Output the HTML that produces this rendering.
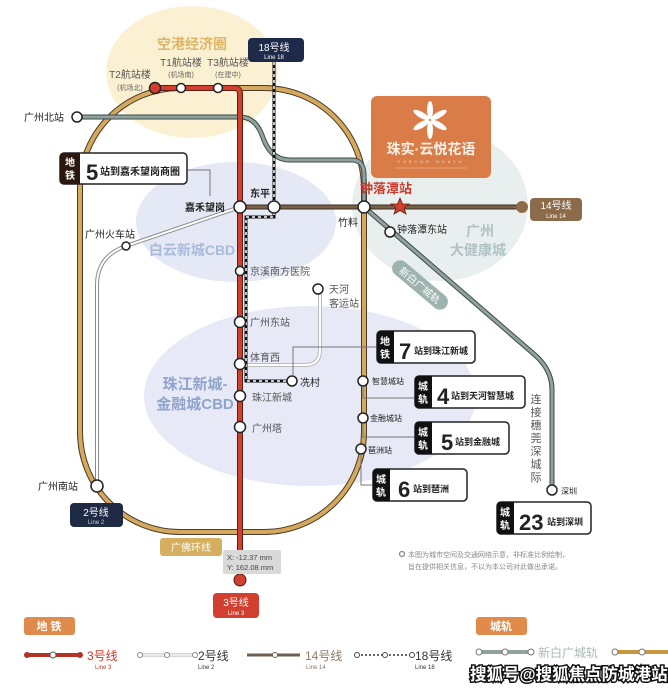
<!DOCTYPE html>
<html><head><meta charset="utf-8"><style>
html,body{margin:0;padding:0;background:#fff;}
svg{display:block;}
text{font-family:"Liberation Sans","Noto Sans CJK SC",sans-serif;}
</style></head><body>
<svg width="668" height="688" viewBox="0 0 668 688" xmlns="http://www.w3.org/2000/svg">
<ellipse cx="192" cy="72" rx="86" ry="66" fill="#fbf1d2"/>
<ellipse cx="440" cy="205" rx="88" ry="76" fill="#e9efee"/>
<ellipse cx="236" cy="222" rx="100" ry="60" fill="#e5e9f5"/>
<ellipse cx="310" cy="396" rx="166" ry="90" fill="#e7e9f6"/>
<text x="192" y="49" font-size="14" font-weight="bold" fill="#dcb565" text-anchor="middle">空港经济圈</text>
<text x="192" y="255" font-size="14" font-weight="bold" fill="#a9b9dc" text-anchor="middle">白云新城CBD</text>
<text x="195" y="389" font-size="15" font-weight="bold" fill="#8fa3cc" text-anchor="middle">珠江新城-</text>
<text x="195" y="409" font-size="15" font-weight="bold" fill="#8fa3cc" text-anchor="middle">金融城CBD</text>
<text x="480" y="236" font-size="14" font-weight="bold" fill="#b0c2c4" text-anchor="middle">广州</text>
<text x="478" y="255" font-size="14" font-weight="bold" fill="#b0c2c4" text-anchor="middle">大健康城</text>

<path d="M180,88 H264 A100,100 0 0 1 364,188 V432 A100,100 0 0 1 264,532 H180 A100,100 0 0 1 80,432 V188 A100,100 0 0 1 180,88 Z" fill="none" stroke="#4a3a28" stroke-width="6"/>
<path d="M180,88 H264 A100,100 0 0 1 364,188 V432 A100,100 0 0 1 264,532 H180 A100,100 0 0 1 80,432 V188 A100,100 0 0 1 180,88 Z" fill="none" stroke="#d5a95d" stroke-width="4"/>

<path d="M240,207 L126,246 Q97,256 97,285 V486" fill="none" stroke="#8a8a8a" stroke-width="4"/>
<path d="M240,207 L126,246 Q97,256 97,285 V486" fill="none" stroke="#fff" stroke-width="2"/>
<path d="M240,365 H305 Q320,365 320,350 V289" fill="none" stroke="#bbb" stroke-width="4"/>
<path d="M240,365 H305 Q320,365 320,350 V289" fill="none" stroke="#fff" stroke-width="2"/>

<path d="M77,117 H240 Q255,117 262,135 Q270,160 290,160 H352 Q364,160 364,175 V207 L535,355 Q552,370 552,390 V490" fill="none" stroke="#3e4a47" stroke-width="5"/>
<path d="M77,117 H240 Q255,117 262,135 Q270,160 290,160 H352 Q364,160 364,175 V207 L535,355 Q552,370 552,390 V490" fill="none" stroke="#8fa29d" stroke-width="3"/>

<line x1="240" y1="207" x2="522" y2="207" stroke="#3c2e22" stroke-width="5"/>
<line x1="240" y1="207" x2="522" y2="207" stroke="#7a6049" stroke-width="3"/>
<circle cx="522" cy="207" r="6" fill="#8b6b4a"/>
<rect x="530" y="198" width="52" height="23" rx="4" fill="#8b6b4a"/>
<text x="556" y="209" font-size="10" fill="#fff" text-anchor="middle">14号线</text>
<text x="556" y="218" font-size="6" fill="#fff" text-anchor="middle">Line 14</text>

<path d="M155,88 H234 Q240,88 240,94 V580" fill="none" stroke="#5a1e14" stroke-width="6"/>
<path d="M155,88 H234 Q240,88 240,94 V580" fill="none" stroke="#d23f2e" stroke-width="4"/>
<circle cx="240" cy="580" r="6" fill="#d23f2e" stroke="#5a1e14" stroke-width="1"/>
<rect x="213" y="593" width="46" height="25" rx="4" fill="#d23f2e"/>
<text x="236" y="606" font-size="10" fill="#fff" text-anchor="middle">3号线</text>
<text x="236" y="615" font-size="6" fill="#fff" text-anchor="middle">Line 3</text>

<path d="M274,62 V217 H246 V381 H292" fill="none" stroke="#111" stroke-width="3"/>
<path d="M274,62 V217 H246 V381 H292" fill="none" stroke="#fff" stroke-width="1.5" stroke-dasharray="3,3"/>
<rect x="248" y="38" width="56" height="24" rx="4" fill="#1e2a4a"/>
<text x="274" y="51" font-size="10" fill="#fff" text-anchor="middle">18号线</text>
<text x="274" y="59" font-size="6" fill="#fff" text-anchor="middle">Line 18</text>

<g fill="#fff" stroke="#222" stroke-width="1.5">
<circle cx="155" cy="88" r="5.5" fill="#d23f2e"/>
<circle cx="181" cy="88" r="4.5"/>
<circle cx="218" cy="88" r="4.5"/>
<circle cx="77" cy="117" r="5"/>
<circle cx="240" cy="207" r="6"/>
<circle cx="274" cy="207" r="6"/>
<circle cx="364" cy="207" r="6"/>
<circle cx="390" cy="232" r="5"/>
<circle cx="126" cy="246" r="4"/>
<circle cx="240" cy="271" r="4.5"/>
<circle cx="318" cy="289" r="5"/>
<circle cx="240" cy="322" r="5.5"/>
<circle cx="240" cy="364" r="5.5"/>
<circle cx="292" cy="381" r="5"/>
<circle cx="240" cy="396" r="5.5"/>
<circle cx="240" cy="427" r="5.5"/>
<circle cx="97" cy="486" r="6"/>
<circle cx="363" cy="381" r="5"/>
<circle cx="363" cy="418" r="5"/>
<circle cx="361" cy="449" r="5"/>
<circle cx="552" cy="490" r="5"/>
</g>
<polygon points="400,198 402.5,204 409,204 404,208 406,214 400,210.5 394,214 396,208 391,204 397.5,204" fill="#d23f2e" stroke="#5a1e14" stroke-width="0.8"/>

<g font-size="10" fill="#222">
<text x="130" y="78" text-anchor="middle" fill="#555">T2航站楼</text>
<text x="130" y="90" font-size="7" text-anchor="middle" fill="#666">(机场北)</text>
<text x="181" y="66" text-anchor="middle" fill="#555">T1航站楼</text>
<text x="181" y="77" font-size="7" text-anchor="middle" fill="#666">(机场南)</text>
<text x="228" y="66" text-anchor="middle" fill="#555">T3航站楼</text>
<text x="228" y="77" font-size="7" text-anchor="middle" fill="#666">(在建中)</text>
<text x="24" y="121">广州北站</text>
<text x="185" y="211" font-weight="bold">嘉禾望岗</text>
<text x="250" y="197" font-weight="bold">东平</text>
<text x="338" y="226">竹料</text>
<text x="397" y="233">钟落潭东站</text>
<text x="85" y="238">广州火车站</text>
<text x="250" y="275" fill="#555">京溪南方医院</text>
<text x="329" y="293" fill="#555">天河</text>
<text x="329" y="307" fill="#555">客运站</text>
<text x="250" y="326" fill="#555">广州东站</text>
<text x="250" y="361" fill="#555">体育西</text>
<text x="300" y="386">冼村</text>
<text x="252" y="401" fill="#555">珠江新城</text>
<text x="252" y="432" fill="#555">广州塔</text>
<text x="38" y="490">广州南站</text>
<text x="372" y="384" font-size="8">智慧城站</text>
<text x="370" y="421" font-size="8">金融城站</text>
<text x="368" y="453" font-size="8">琶洲站</text>
<text x="561" y="494" font-size="8">深圳</text>
</g>
<text x="360" y="193" font-size="13" font-weight="bold" fill="#c9392a">钟落潭站</text>
<g font-size="11" fill="#555" text-anchor="middle">
<text x="536" y="403">连</text><text x="536" y="416">接</text><text x="536" y="429">穗</text><text x="536" y="442">莞</text><text x="536" y="455">深</text><text x="536" y="468">城</text><text x="536" y="481">际</text>
</g>
<g transform="translate(420,285) rotate(40)">
<rect x="-34" y="-8" width="68" height="16" rx="8" fill="#9fb3ae"/>
<text x="0" y="4" font-size="10" fill="#fff" text-anchor="middle">新白广城轨</text>
</g>

<g fill="none" stroke="#777" stroke-width="1">
<path d="M187,170 H210 V196"/>
<path d="M378,347 H293 V376"/>
<path d="M363,386 V398 H415"/>
<path d="M363,423 V437 H415"/>
<path d="M361,454 V485 H373"/>
</g>

<g>
<rect x="60" y="153" width="127" height="31" rx="4" fill="#fff" stroke="#222" stroke-width="1.5"/>
<path d="M64,153 H80 V184 H64 Q60,184 60,180 V157 Q60,153 64,153Z" fill="#2a1810"/>
<text x="70" y="166" font-size="10" fill="#fff" font-weight="bold" text-anchor="middle">地</text>
<text x="70" y="179" font-size="10" fill="#fff" font-weight="bold" text-anchor="middle">铁</text>
<text x="86" y="180" font-size="22" font-weight="bold" fill="#222">5</text>
<text x="100" y="175" font-size="10" font-weight="bold" fill="#222">站到嘉禾望岗商圈</text>

<rect x="377" y="331" width="98" height="32" rx="4" fill="#fff" stroke="#222" stroke-width="1.5"/>
<path d="M381,331 H394 V363 H381 Q377,363 377,359 V335 Q377,331 381,331Z" fill="#111"/>
<text x="385" y="345" font-size="10" fill="#fff" font-weight="bold" text-anchor="middle">地</text>
<text x="385" y="358" font-size="10" fill="#fff" font-weight="bold" text-anchor="middle">铁</text>
<text x="399" y="359" font-size="22" font-weight="bold" fill="#222">7</text>
<text x="414" y="354" font-size="9" font-weight="bold" fill="#222">站到珠江新城</text>

<rect x="415" y="376" width="110" height="32" rx="4" fill="#fff" stroke="#222" stroke-width="1.5"/>
<path d="M419,376 H432 V408 H419 Q415,408 415,404 V380 Q415,376 419,376Z" fill="#111"/>
<text x="423" y="390" font-size="10" fill="#fff" font-weight="bold" text-anchor="middle">城</text>
<text x="423" y="403" font-size="10" fill="#fff" font-weight="bold" text-anchor="middle">轨</text>
<text x="437" y="404" font-size="22" font-weight="bold" fill="#222">4</text>
<text x="451" y="399" font-size="9" font-weight="bold" fill="#222">站到天河智慧城</text>

<rect x="415" y="422" width="94" height="32" rx="4" fill="#fff" stroke="#222" stroke-width="1.5"/>
<path d="M419,422 H432 V454 H419 Q415,454 415,450 V426 Q415,422 419,422Z" fill="#111"/>
<text x="423" y="436" font-size="10" fill="#fff" font-weight="bold" text-anchor="middle">城</text>
<text x="423" y="449" font-size="10" fill="#fff" font-weight="bold" text-anchor="middle">轨</text>
<text x="441" y="450" font-size="22" font-weight="bold" fill="#222">5</text>
<text x="455" y="445" font-size="9" font-weight="bold" fill="#222">站到金融城</text>

<rect x="373" y="469" width="94" height="32" rx="4" fill="#fff" stroke="#222" stroke-width="1.5"/>
<path d="M377,469 H390 V501 H377 Q373,501 373,497 V473 Q373,469 377,469Z" fill="#111"/>
<text x="381" y="483" font-size="10" fill="#fff" font-weight="bold" text-anchor="middle">城</text>
<text x="381" y="496" font-size="10" fill="#fff" font-weight="bold" text-anchor="middle">轨</text>
<text x="398" y="497" font-size="22" font-weight="bold" fill="#222">6</text>
<text x="413" y="492" font-size="9" font-weight="bold" fill="#222">站到琶洲</text>

<rect x="497" y="502" width="94" height="32" rx="4" fill="#fff" stroke="#222" stroke-width="1.5"/>
<path d="M501,502 H514 V534 H501 Q497,534 497,530 V506 Q497,502 501,502Z" fill="#111"/>
<text x="505" y="516" font-size="10" fill="#fff" font-weight="bold" text-anchor="middle">城</text>
<text x="505" y="529" font-size="10" fill="#fff" font-weight="bold" text-anchor="middle">轨</text>
<text x="519" y="530" font-size="22" font-weight="bold" fill="#222">23</text>
<text x="547" y="525" font-size="9" font-weight="bold" fill="#222">站到深圳</text>
</g>

<rect x="371" y="96" width="120" height="82" rx="6" fill="#d97c47"/>
<g fill="#fff" transform="translate(430,120)">
<ellipse cx="0" cy="-10" rx="3" ry="9"/>
<ellipse cx="0" cy="-10" rx="3" ry="9" transform="rotate(60)"/>
<ellipse cx="0" cy="-10" rx="3" ry="9" transform="rotate(120)"/>
<ellipse cx="0" cy="-10" rx="3" ry="9" transform="rotate(180)"/>
<ellipse cx="0" cy="-10" rx="3" ry="9" transform="rotate(240)"/>
<ellipse cx="0" cy="-10" rx="3" ry="9" transform="rotate(300)"/>
</g>
<text x="431" y="154" font-size="14" font-weight="bold" fill="#fdf1e6" text-anchor="middle">珠实·云悦花语</text>
<text x="431" y="163" font-size="4" fill="#fde0c8" text-anchor="middle" letter-spacing="3">YUEYUE HUAYU</text>
<line x1="395" y1="168" x2="467" y2="168" stroke="#f6c6a0" stroke-width="0.6"/>

<rect x="160" y="538" width="62" height="18" rx="3" fill="#d7ad5e"/>
<text x="191" y="551" font-size="10" fill="#fff" text-anchor="middle">广佛环线</text>
<rect x="70" y="503" width="53" height="24" rx="4" fill="#1f2a44"/>
<text x="96" y="516" font-size="10" fill="#fff" text-anchor="middle">2号线</text>
<text x="96" y="524" font-size="6" fill="#ccc" text-anchor="middle">Line 2</text>

<rect x="223" y="550" width="58" height="24" rx="2" fill="#d9d9d9"/>
<text x="227" y="560" font-size="7.5" fill="#444">X: -12.37 mm</text>
<text x="227" y="570" font-size="7.5" fill="#444">Y: 162.08 mm</text>

<circle cx="402" cy="554" r="2.5" fill="none" stroke="#888" stroke-width="1.2"/>
<text x="408" y="557" font-size="7" fill="#888">本图为城市空间及交通网络示意，非标准比例绘制，</text>
<text x="408" y="569" font-size="7" fill="#888">旨在提供相关信息，不以为本公司对此做出承诺。</text>

<rect x="24" y="617" width="51" height="18" rx="3" fill="#e08a4c"/>
<text x="49" y="630" font-size="11" fill="#fff" text-anchor="middle" font-weight="bold">地 铁</text>
<rect x="476" y="617" width="51" height="18" rx="3" fill="#e08a4c"/>
<text x="501" y="630" font-size="11" fill="#fff" text-anchor="middle" font-weight="bold">城轨</text>

<line x1="27" y1="655" x2="80" y2="655" stroke="#b33325" stroke-width="4"/>
<circle cx="27" cy="655" r="3" fill="#b33325"/><circle cx="80" cy="655" r="3" fill="#b33325"/>
<circle cx="53" cy="655" r="3" fill="#fff" stroke="#555"/>
<text x="87" y="660" font-size="12" fill="#c9392a">3号线</text>
<text x="95" y="669" font-size="6" fill="#c9392a">Line 3</text>

<line x1="140" y1="655" x2="195" y2="655" stroke="#aaa" stroke-width="3"/>
<line x1="140" y1="655" x2="195" y2="655" stroke="#fff" stroke-width="1.5"/>
<circle cx="140" cy="655" r="2.5" fill="#fff" stroke="#888"/><circle cx="167" cy="655" r="2.5" fill="#fff" stroke="#888"/><circle cx="195" cy="655" r="2.5" fill="#fff" stroke="#888"/>
<text x="198" y="660" font-size="12" fill="#333">2号线</text>
<text x="198" y="669" font-size="6" fill="#333">Line 2</text>

<line x1="247" y1="655" x2="300" y2="655" stroke="#6d5f50" stroke-width="3"/>
<circle cx="275" cy="655" r="2.5" fill="#fff" stroke="#666"/>
<text x="305" y="660" font-size="12" fill="#8a7a6a">14号线</text>
<text x="306" y="669" font-size="6" fill="#8a7a6a">Line 14</text>

<line x1="357" y1="655" x2="412" y2="655" stroke="#333" stroke-width="1.5" stroke-dasharray="2,2"/>
<circle cx="357" cy="655" r="2.5" fill="#fff" stroke="#444"/><circle cx="385" cy="655" r="2.5" fill="#fff" stroke="#444"/><circle cx="412" cy="655" r="2.5" fill="#fff" stroke="#444"/>
<text x="415" y="660" font-size="12" fill="#333">18号线</text>
<text x="415" y="669" font-size="6" fill="#333">Line 18</text>

<line x1="479" y1="652" x2="531" y2="652" stroke="#8fa29d" stroke-width="4"/>
<circle cx="479" cy="652" r="3" fill="#fff" stroke="#777"/><circle cx="505" cy="652" r="3" fill="#fff" stroke="#777"/><circle cx="531" cy="652" r="3" fill="#fff" stroke="#777"/>
<text x="538" y="657" font-size="12" fill="#a8bab5">新白广城轨</text>

<line x1="615" y1="652" x2="668" y2="652" stroke="#c9973f" stroke-width="4"/>
<circle cx="615" cy="652" r="3" fill="#fff" stroke="#777"/><circle cx="642" cy="652" r="3" fill="#fff" stroke="#777"/>

<text x="470" y="680" font-size="16.5" font-weight="bold" fill="#fff" stroke="#111" stroke-width="3" paint-order="stroke">搜狐号@搜狐焦点防城港站</text>
</svg>
</body></html>
